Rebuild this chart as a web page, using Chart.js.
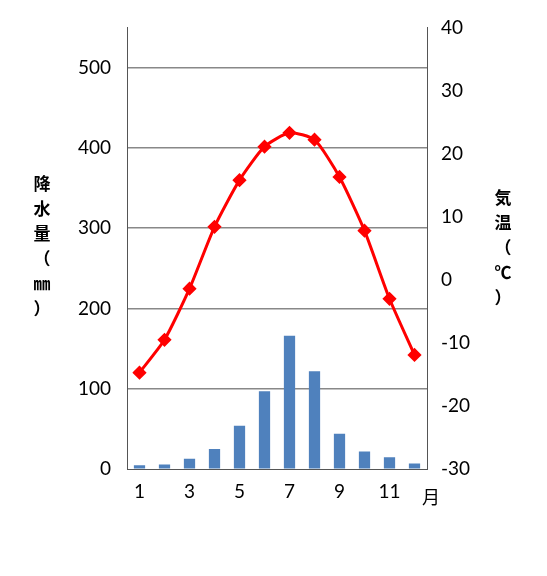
<!DOCTYPE html>
<html><head><meta charset="utf-8">
<script src="https://cdn.jsdelivr.net/npm/chart.js@4"></script>
<style>body{margin:0;background:#fff}#w{width:547px;height:576px}</style>
</head><body><div id="w"><canvas id="c"></canvas></div>
<script>
const months = ['1','2','3','4','5','6','7','8','9','10','11','12'];
const precip = [5,6,13,25,54,97,166,122,44,22,15,7];
const temp = [-14.7,-9.5,-1.4,8.4,15.8,21.1,23.3,22.2,16.3,7.8,-3,-11.9];
const F = "'Noto Sans CJK JP', 'Noto Sans', sans-serif";
const T = "Lato, 'Noto Sans', sans-serif";
const deco = {
  id:'deco',
  afterDraw(ch){
    const c=ch.ctx; c.save(); c.fillStyle='#000'; c.textAlign='center'; c.textBaseline='middle';
    c.font="bold 17px "+F;
    ['降','水','量','（','㎜','）'].forEach((t,i)=>c.fillText(t,42,184+i*25));
    ['気','温','（','℃','）'].forEach((t,i)=>c.fillText(t,503,198+i*25));
    c.font="18px "+F; c.fillText('月',431,497);
    c.restore();
  }
};
new Chart(document.getElementById('c'),{
  data:{labels:months,datasets:[
    {type:'line',data:temp,yAxisID:'y2',borderColor:'#ff0000',backgroundColor:'#ff0000',borderWidth:3,pointStyle:'rectRot',pointRadius:5,tension:0.2,order:0},
    {type:'bar',data:precip,yAxisID:'y',backgroundColor:'#4f81bd',barPercentage:0.45,categoryPercentage:1,order:1}
  ]},
  options:{responsive:true,maintainAspectRatio:false,animation:false,
    layout:{padding:{left:0,right:0,top:9,bottom:70}},
    plugins:{legend:{display:false},tooltip:{enabled:false}},
    scales:{
      x:{grid:{display:false,drawTicks:true},border:{color:'#555'},
        ticks:{color:'#000',font:{size:19,family:T},maxRotation:0,autoSkip:false,
          callback:(v,i)=>i%2===0?months[i]:''}},
      y:{position:'left',min:0,max:550,afterBuildTicks:a=>{a.ticks=[0,100,200,300,400,500].map(v=>({value:v}));},
        afterFit:a=>{a.width=127;},
        border:{color:'#555'},grid:{color:c=>c.tick&&c.tick.value>0?'#888':'transparent',lineWidth:1.5,drawTicks:false},
        ticks:{color:'#000',font:{size:19,family:T},padding:16}},
      y2:{position:'right',min:-30,max:40,afterBuildTicks:a=>{a.ticks=[-30,-20,-10,0,10,20,30,40].map(v=>({value:v}));},
        afterFit:a=>{a.width=120;},
        border:{color:'#555'},grid:{display:false},
        ticks:{color:'#000',font:{size:19,family:T},padding:6}}
    }},
  plugins:[deco]
});
</script></body></html>
